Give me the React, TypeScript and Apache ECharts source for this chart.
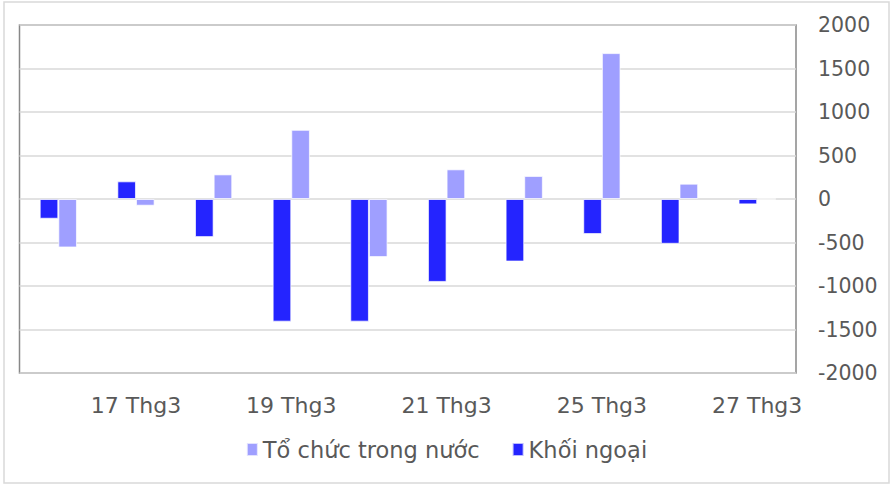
import React, { useEffect, useRef } from "react";
import * as echarts from "echarts";

const categories = ["16 Thg3", "17 Thg3", "18 Thg3", "19 Thg3", "20 Thg3", "21 Thg3", "24 Thg3", "25 Thg3", "26 Thg3", "27 Thg3"];
const khoiNgoai = [-227, 203, -438, -1410, -1410, -953, -719, -403, -515, -62];
const toChucTrongNuoc = [-557, -77, 283, 795, -668, 341, 265, 1677, 176, 0];
const yTicks = { min: -2000, max: 2000, interval: 500 };

const FONT = "'DejaVu Sans', sans-serif";

export default function App() {
  const ref = useRef<HTMLDivElement>(null);
  useEffect(() => {
    if (!ref.current) return;
    const chart = echarts.init(ref.current, undefined, { renderer: "svg" });
    chart.setOption({
      animation: false,
      backgroundColor: "#ffffff",
      textStyle: { fontFamily: FONT },
      graphic: [
        {
          type: "rect",
          shape: { x: 4, y: 2, width: 885, height: 481 },
          style: { fill: "none", stroke: "#D9D9D9", lineWidth: 1.5 },
          silent: true,
          z: -10,
        },
      ],
      grid: {
        left: 19.5,
        right: 97,
        top: 25,
        bottom: 114,
        show: true,
        borderColor: "#888888",
        borderWidth: 1.5,
        containLabel: false,
      },
      legend: {
        data: ["Tổ chức trong nước", "Khối ngoại"],
        top: 433,
        left: "center",
        itemWidth: 11,
        itemHeight: 13,
        itemGap: 32,
        icon: "rect",
        textStyle: { fontFamily: FONT, fontSize: 22.5, color: "#595959" },
      },
      xAxis: {
        type: "category",
        data: categories,
        axisLine: { show: false },
        axisTick: { show: false },
        axisLabel: {
          interval: (idx: number) => idx % 2 === 1,
          fontFamily: FONT,
          fontSize: 22,
          color: "#595959",
          margin: 21,
        },
      },
      yAxis: {
        type: "value",
        position: "right",
        min: yTicks.min,
        max: yTicks.max,
        interval: yTicks.interval,
        axisLine: { show: false },
        axisTick: { show: false },
        splitLine: { lineStyle: { color: "#D9D9D9", width: 1.5 } },
        axisLabel: {
          fontFamily: FONT,
          fontSize: 20.5,
          color: "#595959",
          margin: 22,
          formatter: (v: number) => String(v),
        },
      },
      series: [
        {
          name: "Khối ngoại",
          type: "bar",
          data: khoiNgoai,
          barGap: "0%",
          barCategoryGap: "52%",
          itemStyle: { color: "#2424FF", borderColor: "rgba(255,255,255,0.7)", borderWidth: 1 },
        },
        {
          name: "Tổ chức trong nước",
          type: "bar",
          data: toChucTrongNuoc,
          barGap: "0%",
          barCategoryGap: "52%",
          itemStyle: { color: "#9F9FFF", borderColor: "rgba(255,255,255,0.7)", borderWidth: 1 },
        },
      ],
    });
    return () => chart.dispose();
  }, []);
  return (
    <div
      ref={ref}
      style={{ position: "fixed", left: 0, top: 0, width: 893, height: 487 }}
    />
  );
}
